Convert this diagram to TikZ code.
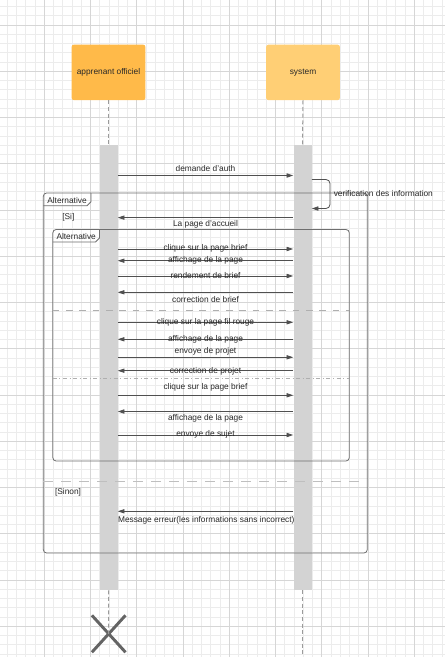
\documentclass[tikz,border=0pt]{standalone}
\usepackage{fontspec}
\setmainfont{Liberation Sans}
\usetikzlibrary{arrows.meta,shapes.misc}
\definecolor{gridminor}{RGB}{236,236,236}
\definecolor{gridmajor}{RGB}{214,214,214}
\definecolor{actorA}{RGB}{255,186,73}
\definecolor{actorB}{RGB}{255,207,117}
\definecolor{barc}{RGB}{211,211,211}
\definecolor{lifec}{RGB}{155,155,155}
\definecolor{framec}{RGB}{110,110,110}
\definecolor{msgc}{RGB}{80,80,80}
\definecolor{txtc}{RGB}{40,40,40}
\definecolor{xc}{RGB}{100,100,100}
\definecolor{sepc}{RGB}{175,175,175}
\begin{document}
\begin{tikzpicture}[x=0.75pt,y=-0.75pt,
  font=\fontsize{6.25}{7.5}\selectfont,
  actor/.style={rectangle,draw=none,rounded corners=1.5pt,minimum width=55.2pt,minimum height=41.5pt,inner sep=0pt,text=txtc},
  actbar/.style={rectangle,draw=none,fill=barc,minimum width=13.5pt,minimum height=333.75pt,inner sep=0pt},
  life/.style={draw=lifec,line width=0.75pt,dash pattern=on 3pt off 2pt},
  msg/.style={draw=msgc,line width=0.6pt,-{Triangle[length=5pt,width=3.2pt]}},
  lbl/.style={inner sep=0pt,text=txtc,yshift=-0.8pt},
  frame/.style={draw=framec,line width=0.6pt},
  sepd/.style={draw=sepc,line width=0.6pt,dash pattern=on 5pt off 5pt},
  sepo/.style={draw=sepc!80,line width=0.6pt,dash pattern=on 7.5pt off 6pt},
  sepdd/.style={draw=sepc,line width=0.6pt,dash pattern=on 3pt off 2pt on 0.6pt off 2pt},
  endx/.style={cross out,draw=xc,line width=2.2pt,minimum width=23pt,minimum height=25.5pt,inner sep=0pt}]
\useasboundingbox (0,0) rectangle (445,657);
\fill[white] (0,0) rectangle (445,657);
% grid
\foreach \i in {0,...,47} \draw[gridminor,line width=0.5pt] (7.25+9.25*\i,0) -- (7.25+9.25*\i,657);
\foreach \i in {0,...,70} \draw[gridminor,line width=0.5pt] (0,6.5+9.25*\i) -- (445,6.5+9.25*\i);
\foreach \i in {0,...,8} \draw[gridmajor,line width=0.5pt] (44.25+46.25*\i,0) -- (44.25+46.25*\i,657);
\foreach \i in {0,...,13} \draw[gridmajor,line width=0.5pt] (0,25+46.25*\i) -- (445,25+46.25*\i);
% actors
\node[actor,fill=actorA] (a1) at (108.5,72.4) {apprenant officiel};
\node[actor,fill=actorB] (a2) at (303,72.4) {system};
% activation bars
\node[actbar] (b1) at (108.5,367.5) {};
\node[actbar] (b2) at (302.5,367.5) {};
% lifelines
\node[endx] (x1) at (108.7,633.8) {};
\coordinate (e2) at (302.5,657);
\draw[life] (a1.south) -- (b1.north);
\draw[life] (a2.south) -- (b2.north);
\draw[life] (b1.south) -- (x1.center);
\draw[life] (b2.south) -- (e2);
% outer frame
\draw[frame,rounded corners=2.5pt] (43.3,193) rectangle (367.3,553);
\draw[frame] (43.3,205.8) -- (87,205.8) -- (91,201.8) -- (91,193);
\node[lbl] (t1) at (67,199.3) {Alternative};
\node[lbl] (g1) at (68.3,216) {[Si]};
% inner frame
\draw[frame,rounded corners=2.5pt] (52.8,229.5) rectangle (349.3,461);
\draw[frame] (52.8,242) -- (95.5,242) -- (99.5,238) -- (99.5,229.5);
\node[lbl] (t2) at (76.2,235.8) {Alternative};
% separators
\draw[sepd] (52.8,310) -- (349.3,310);
\draw[sepdd] (52.8,378.3) -- (349.3,378.3);
\draw[sepo] (43.3,481) -- (360,481);
\node[lbl] (g2) at (68,491.5) {[Sinon]};
% messages
\draw[msg] (b1.east |- 0,175.5) -- (b2.west |- 0,175.5);
\node[lbl] (m1) at (205.5,167.5) {demande d'auth};
\draw[msg,rounded corners=3pt] (b2.east |- 0,179.5) -- (330,179.5) -- (330,208.5) -- (b2.east |- 0,208.5);
\node[lbl,anchor=west] (m2) at (333.5,192.5) {verification des information};
\draw[msg] (b2.west |- 0,217.6) -- (b1.east |- 0,217.6);
\node[lbl] (m3) at (205.5,222.8) {La page d'accueil};
\draw[msg] (b1.east |- 0,249) -- (b2.west |- 0,249);
\node[lbl] (m4) at (205.5,247.3) {clique sur la page brief};
\draw[msg] (b2.west |- 0,260.7) -- (b1.east |- 0,260.7);
\node[lbl] (m5) at (205.5,259.2) {affichage de la page};
\draw[msg] (b1.east |- 0,276) -- (b2.west |- 0,276);
\node[lbl] (m6) at (205.5,274.6) {rendement de brief};
\draw[msg] (b2.west |- 0,292.3) -- (b1.east |- 0,292.3);
\node[lbl] (m7) at (205.5,298.3) {correction de brief};
\draw[msg] (b1.east |- 0,322.3) -- (b2.west |- 0,322.3);
\node[lbl] (m8) at (205.5,321) {clique sur la page fil rouge};
\draw[msg] (b2.west |- 0,339.3) -- (b1.east |- 0,339.3);
\node[lbl] (m9) at (205.5,338.2) {affichage de la page};
\draw[msg] (b1.east |- 0,357.3) -- (b2.west |- 0,357.3);
\node[lbl] (m10) at (205.5,350) {envoye de projet};
\draw[msg] (b2.west |- 0,370.7) -- (b1.east |- 0,370.7);
\node[lbl] (m11) at (205.5,370) {correction de projet};
\draw[msg] (b1.east |- 0,395.3) -- (b2.west |- 0,395.3);
\node[lbl] (m12) at (205.5,386.7) {clique sur la page brief};
\draw[msg] (b2.west |- 0,411.5) -- (b1.east |- 0,411.5);
\node[lbl] (m13) at (205.5,417.7) {affichage de la page};
\draw[msg] (b1.east |- 0,435) -- (b2.west |- 0,435);
\node[lbl] (m14) at (205.5,433.7) {envoye de sujet};
\draw[msg] (b2.west |- 0,511.3) -- (b1.east |- 0,511.3);
\node[lbl,anchor=west] (m15) at (117.8,519) {Message erreur(les informations sans incorrect)};
\end{tikzpicture}
\end{document}
